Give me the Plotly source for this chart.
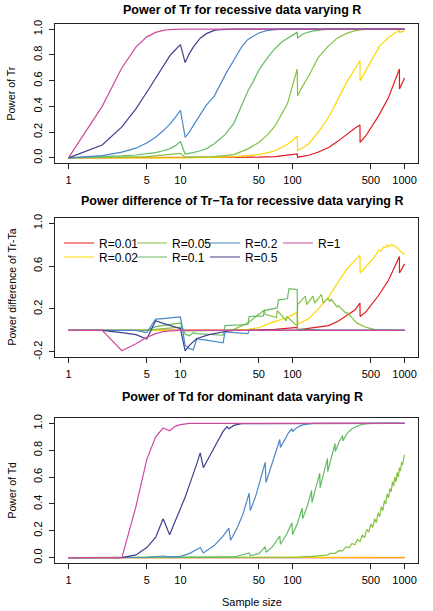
import plotly.graph_objects as go

# ---------------- categories / labels ----------------
r_labels = ["R=0.01", "R=0.02", "R=0.05", "R=0.1", "R=0.2", "R=0.5", "R=1"]
r_colors = ["#E41A1C", "#FFD700", "#86C240", "#66BB66", "#4A87C8", "#3F3F8F", "#CC4C9E"]
x_tick_vals = [1, 5, 10, 50, 100, 500, 1000]
x_tick_text = ["1", "5", "10", "50", "100", "500", "1000"]

# ---------------- Panel 1: power of Tr, recessive ----------------
tr_n_001 = [1, 30, 50, 70, 90, 110, 111, 140, 170, 210, 255, 310, 360, 400, 401, 450, 490, 590, 720, 800, 900, 901, 1000]
tr_p_001 = [0, 0.002, 0.005, 0.01, 0.018, 0.03, 0.005, 0.02, 0.045, 0.08, 0.13, 0.19, 0.23, 0.255, 0.12, 0.17, 0.22, 0.33, 0.47, 0.57, 0.69, 0.535, 0.62]
tr_n_002 = [1, 10, 11, 30, 40, 50, 60, 70, 80, 90, 100, 110, 111, 125, 140, 170, 210, 255, 310, 360, 400, 401, 450, 500, 600, 720, 800, 900, 901, 1000]
tr_p_002 = [0, 0.005, 0.0, 0.008, 0.015, 0.025, 0.04, 0.055, 0.08, 0.105, 0.135, 0.17, 0.057, 0.08, 0.11, 0.2, 0.315, 0.46, 0.6, 0.69, 0.755, 0.6, 0.68, 0.75, 0.87, 0.935, 0.965, 0.99, 0.975, 0.985]
tr_n_005 = [1, 5, 10, 11, 20, 30, 40, 50, 60, 70, 80, 90, 100, 110, 111, 120, 140, 170, 210, 250, 300, 350, 400, 500, 1000]
tr_p_005 = [0, 0.01, 0.035, 0.005, 0.01, 0.025, 0.07, 0.12, 0.18, 0.25, 0.34, 0.42, 0.56, 0.69, 0.48, 0.54, 0.64, 0.78, 0.87, 0.93, 0.965, 0.985, 0.995, 1.0, 1.0]
tr_n_01 = [1, 2, 3, 4, 5, 6, 7, 8, 9, 10, 11, 12, 13, 15, 17, 20, 25, 30, 35, 40, 45, 50, 60, 70, 80, 90, 100, 110, 111, 120, 130, 150, 180, 220, 1000]
tr_p_01 = [0, 0.008, 0.015, 0.022, 0.03, 0.04, 0.055, 0.07, 0.095, 0.127, 0.03, 0.035, 0.04, 0.055, 0.07, 0.11, 0.18, 0.27, 0.41, 0.52, 0.6, 0.68, 0.78, 0.85, 0.9, 0.93, 0.955, 0.975, 0.93, 0.955, 0.97, 0.985, 0.995, 1.0, 1.0]
tr_n_02 = [1, 2, 3, 4, 5, 6, 7, 8, 9, 10, 11, 12, 13, 15, 17, 20, 23, 26, 30, 35, 40, 45, 50, 60, 70, 80, 1000]
tr_p_02 = [0, 0.018, 0.044, 0.075, 0.115, 0.16, 0.21, 0.26, 0.315, 0.37, 0.16, 0.2, 0.25, 0.34, 0.41, 0.48, 0.58, 0.67, 0.76, 0.86, 0.92, 0.95, 0.97, 0.99, 0.997, 1.0, 1.0]
tr_n_05 = [1, 2, 3, 4, 5, 6, 7, 8, 9, 10, 11, 12, 13, 14, 15, 17, 20, 23, 26, 30, 1000]
tr_p_05 = [0, 0.10, 0.24, 0.38, 0.51, 0.62, 0.71, 0.79, 0.84, 0.88, 0.74, 0.81, 0.86, 0.90, 0.93, 0.965, 0.99, 0.997, 1.0, 1.0, 1.0]
tr_n_1 = [1, 2, 3, 4, 5, 6, 7, 8, 10, 1000]
tr_p_1 = [0, 0.40, 0.70, 0.86, 0.94, 0.975, 0.99, 0.997, 1.0, 1.0]

# ---------------- Panel 2: power difference Tr-Ta, recessive ----------------
df_n_001 = [1, 30, 50, 70, 90, 110, 111, 140, 170, 210, 255, 310, 360, 400, 401, 450, 490, 590, 720, 800, 900, 901, 1000]
df_p_001 = [0, 0.001, 0.004, 0.009, 0.016, 0.028, 0.005, 0.02, 0.035, 0.045, 0.085, 0.14, 0.19, 0.255, 0.13, 0.17, 0.22, 0.33, 0.47, 0.57, 0.69, 0.535, 0.62]
df_n_002 = [1, 30, 40, 50, 64, 80, 90, 100, 110, 111, 140, 170, 210, 255, 310, 360, 400, 401, 450, 490, 520, 550, 590, 620, 650, 680, 700, 730, 760, 800, 830, 860, 890, 920, 950, 980, 1000]
df_p_002 = [0, 0, 0.01, 0.025, 0.07, 0.1, 0.12, 0.145, 0.17, 0.06, 0.11, 0.2, 0.31, 0.45, 0.58, 0.65, 0.70, 0.535, 0.59, 0.64, 0.665, 0.70, 0.75, 0.74, 0.78, 0.77, 0.795, 0.785, 0.80, 0.79, 0.785, 0.77, 0.755, 0.74, 0.735, 0.715, 0.705]
df_n_005 = [1, 5, 6, 10, 11, 25, 30, 40, 56, 57, 72, 73, 88, 89, 110, 111, 130, 134, 152, 158, 181, 188, 207, 215, 222, 250, 258, 300, 310, 373, 450, 550, 1000]
df_p_005 = [0, 0, 0.01, 0.03, -0.005, 0, 0.01, 0.07, 0.19, 0.15, 0.12, 0.185, 0.09, 0.13, 0.04, 0.24, 0.32, 0.24, 0.32, 0.255, 0.335, 0.255, 0.30, 0.27, 0.29, 0.22, 0.23, 0.16, 0.165, 0.07, 0.03, 0.005, 0]
df_n_01 = [1, 5, 6, 10, 11, 12, 13, 14, 24, 25, 40, 41, 55, 56, 73, 75, 90, 93, 110, 111, 130, 160, 200, 1000]
df_p_01 = [0, 0, 0.035, 0.07, -0.035, -0.05, -0.02, -0.03, -0.045, 0.045, 0.055, 0.13, 0.135, 0.185, 0.21, 0.285, 0.295, 0.39, 0.38, 0.01, 0.01, 0.005, 0, 0]
df_n_02 = [1, 4, 5, 6, 7, 8, 9, 10, 11, 12, 13, 14, 17, 20, 24, 25, 30, 35, 40, 41, 1000]
df_p_02 = [0, 0, -0.02, 0.105, 0.11, 0.115, 0.12, 0.125, -0.14, -0.17, -0.18, -0.08, -0.09, -0.1, -0.115, -0.015, -0.02, -0.025, -0.03, 0, 0]
df_n_05 = [1, 2, 3, 4, 5, 6, 7, 8, 9, 10, 11, 12, 14, 18, 25, 30, 1000]
df_p_05 = [0, 0, -0.02, -0.04, -0.08, 0.09, 0.065, 0.045, 0.03, 0.015, -0.19, -0.14, -0.075, -0.04, -0.01, 0, 0]
df_n_1 = [1, 2, 3, 4, 5, 6, 7, 8, 10, 1000]
df_p_1 = [0, 0, -0.19, -0.125, -0.065, -0.03, -0.012, -0.004, 0, 0]

# ---------------- Panel 3: power of Td, dominant ----------------
td_n_001 = [1, 1000]
td_p_001 = [0, 0]
td_n_002 = [1, 1000]
td_p_002 = [0, 0.003]
td_n_005 = [1, 50, 100, 150, 180, 200, 220, 240, 260, 280, 300, 320, 340, 360, 380, 400, 420, 440, 460, 480, 500, 520, 540, 560, 580, 600, 620, 640, 660, 680, 700, 720, 740, 760, 780, 800, 820, 840, 860, 880, 900, 920, 940, 960, 980, 1000]
td_p_005 = [0, 0, 0.003, 0.01, 0.015, 0.018, 0.032, 0.032, 0.052, 0.050, 0.080, 0.074, 0.106, 0.096, 0.135, 0.120, 0.168, 0.150, 0.21, 0.19, 0.25, 0.225, 0.29, 0.26, 0.335, 0.305, 0.38, 0.35, 0.425, 0.40, 0.475, 0.445, 0.515, 0.49, 0.565, 0.535, 0.60, 0.565, 0.635, 0.60, 0.67, 0.645, 0.71, 0.69, 0.735, 0.765]
td_n_01 = [1, 30, 41, 42, 50, 57, 58, 66, 77, 78, 88, 99, 100, 110, 122, 123, 135, 148, 149, 160, 175, 176, 190, 205, 206, 220, 240, 241, 260, 280, 281, 310, 340, 380, 430, 500, 1000]
td_p_01 = [0, 0.005, 0.035, 0.015, 0.03, 0.08, 0.04, 0.08, 0.16, 0.1, 0.17, 0.26, 0.17, 0.25, 0.37, 0.29, 0.38, 0.5, 0.41, 0.5, 0.63, 0.52, 0.62, 0.74, 0.64, 0.74, 0.85, 0.79, 0.86, 0.91, 0.87, 0.93, 0.96, 0.98, 0.995, 1.0, 1.0]
td_n_02 = [1, 3, 5, 7, 8, 10, 12, 15, 16, 20, 24, 27, 28, 32, 36, 41, 42, 47, 52, 57, 58, 64, 70, 77, 78, 85, 92, 99, 100, 110, 120, 135, 150, 1000]
td_p_02 = [0, 0, 0.003, 0.012, 0.005, 0.01, 0.03, 0.075, 0.035, 0.09, 0.16, 0.22, 0.13, 0.22, 0.32, 0.48, 0.35, 0.46, 0.6, 0.71, 0.56, 0.67, 0.78, 0.88, 0.82, 0.88, 0.93, 0.96, 0.94, 0.97, 0.985, 0.995, 1.0, 1.0]
td_n_05 = [1, 3, 4, 5, 6, 7, 8, 9, 10, 11, 12, 13, 14, 15, 16, 17, 18, 20, 22, 24, 26, 27, 30, 35, 1000]
td_p_05 = [0, 0, 0.02, 0.075, 0.15, 0.29, 0.17, 0.27, 0.36, 0.45, 0.54, 0.62, 0.70, 0.78, 0.67, 0.71, 0.75, 0.82, 0.89, 0.94, 0.975, 0.96, 0.985, 0.998, 1.0]
td_n_1 = [1, 2, 3, 4, 5, 6, 7, 8, 9, 10, 12, 1000]
td_p_1 = [0, 0, 0, 0.38, 0.73, 0.9, 0.965, 0.945, 0.98, 0.99, 1.0, 1.0]

panel_series = [
    [(tr_n_001, tr_p_001), (tr_n_002, tr_p_002), (tr_n_005, tr_p_005), (tr_n_01, tr_p_01),
     (tr_n_02, tr_p_02), (tr_n_05, tr_p_05), (tr_n_1, tr_p_1)],
    [(df_n_001, df_p_001), (df_n_002, df_p_002), (df_n_005, df_p_005), (df_n_01, df_p_01),
     (df_n_02, df_p_02), (df_n_05, df_p_05), (df_n_1, df_p_1)],
    [(td_n_001, td_p_001), (td_n_002, td_p_002), (td_n_005, td_p_005), (td_n_01, td_p_01),
     (td_n_02, td_p_02), (td_n_05, td_p_05), (td_n_1, td_p_1)],
]
panel_titles = ["Power of Tr for recessive data varying R",
                "Power difference of Tr\u2212Ta for recessive data varying R",
                "Power of Td for dominant data varying R"]
panel_ylabels = ["Power of Tr", "Power difference of Tr-Ta", "Power of Td"]

# legend rows: first row R=0.01, 0.05, 0.2, 1 ; second row R=0.02, 0.1, 0.5
legend_row = ["legend", "legend2", "legend", "legend2", "legend", "legend2", "legend"]

FONT = "Liberation Sans, Arial, Helvetica, sans-serif"
W, H = 433, 611
BOX_L, BOX_R = 55, 418
TOP_P, BOT_P = 24, 563
ML, MR = BOX_L, W - BOX_R
MT, MB = TOP_P, H - BOT_P
PH = H - MT - MB
PW = W - ML - MR


def py(px):  # pixel from top -> paper y
    return (BOT_P - px) / PH


def pxx(px):  # pixel from left -> paper x
    return (px - BOX_L) / PW


boxes = [(24, 163), (218, 357), (418, 563)]
yranges = [[-0.04, 1.04], [-0.248, 1.048], [-0.04, 1.04]]
yticks = [[0, 0.2, 0.4, 0.6, 0.8, 1.0], [-0.2, 0.2, 0.6, 1.0], [0, 0.2, 0.4, 0.6, 0.8, 1.0]]
yticktext = [["0.0", "0.2", "0.4", "0.6", "0.8", "1.0"], ["-0.2", "0.2", "0.6", "1.0"],
             ["0.0", "0.2", "0.4", "0.6", "0.8", "1.0"]]

fig = go.Figure()
for pi, series in enumerate(panel_series):
    sfx = "" if pi == 0 else str(pi + 1)
    for ri, (nn, pp) in enumerate(series):
        fig.add_trace(go.Scatter(
            x=nn, y=pp, mode="lines", name=r_labels[ri],
            line=dict(color=r_colors[ri], width=1.2),
            xaxis="x" + sfx, yaxis="y" + sfx,
            showlegend=(pi == 1), legend=legend_row[ri],
        ))

layout = dict(
    width=W, height=H, margin=dict(l=ML, r=MR, t=MT, b=MB),
    paper_bgcolor="white", plot_bgcolor="white",
    font=dict(family=FONT, size=11, color="black"),
    annotations=[],
)
for pi in range(3):
    sfx = "" if pi == 0 else str(pi + 1)
    top, bot = boxes[pi]
    layout["xaxis" + sfx] = dict(
        type="log", range=[-0.12, 3.12], domain=[0, 1], anchor="y" + sfx,
        tickvals=x_tick_vals, ticktext=x_tick_text, ticks="outside", ticklen=5,
        tickwidth=1, tickcolor="#222", showline=True, linecolor="#222", linewidth=1,
        mirror=True, showgrid=False, zeroline=False, ticklabelstandoff=2,
        tickfont=dict(size=11), automargin=False,
    )
    layout["yaxis" + sfx] = dict(
        range=yranges[pi], domain=[py(bot), py(top)], anchor="x" + sfx,
        tickvals=yticks[pi], ticktext=yticktext[pi], ticks="outside", ticklen=5,
        tickwidth=1, tickcolor="#222", showline=True, linecolor="#222", linewidth=1,
        mirror=True, showgrid=False, zeroline=False, tickangle=-90, ticklabelstandoff=3,
        tickfont=dict(size=11), automargin=False,
    )
    layout["annotations"].append(dict(
        text="<b>" + panel_titles[pi] + "</b>", xref="paper", yref="paper",
        x=pxx(242), y=py([10, 201, 397][pi]), xanchor="center", yanchor="middle",
        showarrow=False, font=dict(size=12.5),
    ))
    layout["annotations"].append(dict(
        text=panel_ylabels[pi], xref="paper", yref="paper", textangle=-90,
        x=pxx(11), y=py((top + bot) / 2), xanchor="center", yanchor="middle",
        showarrow=False, font=dict(size=10.5),
    ))
layout["annotations"].append(dict(
    text="Sample size", xref="paper", yref="paper",
    x=pxx(252), y=py(602), xanchor="center", yanchor="middle",
    showarrow=False, font=dict(size=11),
))

for key, row_y in (("legend", 243), ("legend2", 257)):
    layout[key] = dict(orientation="h", x=pxx(59), y=py(row_y), xanchor="left", yanchor="middle",
                       entrywidth=28, entrywidthmode="pixels", bgcolor="rgba(0,0,0,0)",
                       font=dict(size=12), itemwidth=30, traceorder="normal")
fig.update_layout(**layout)
fig.write_html(
    "out.html",
    config={"displayModeBar": False},
    post_script="document.body.style.margin='0';document.body.style.overflow='hidden';",
)
